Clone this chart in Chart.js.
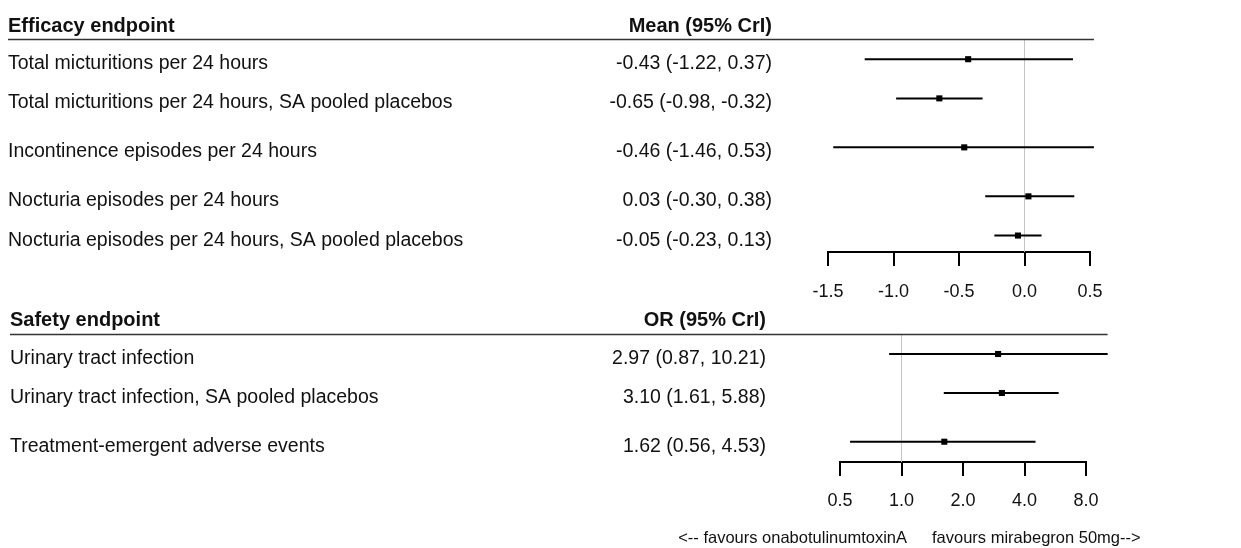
<!DOCTYPE html>
<html>
<head>
<meta charset="utf-8">
<script src="https://cdn.jsdelivr.net/npm/chart.js@4.4.1/dist/chart.umd.min.js"></script>
<style>
    html, body { margin: 0; padding: 0; background: #fff; }
    #wrap { position: relative; width: 1241px; height: 548px; }
    #wrap canvas { position: absolute; left: 0; }
</style>
</head>
<body>
<div id="wrap">
    <canvas id="efficacyChart" width="1241" height="300" style="top:0"></canvas>
    <canvas id="safetyChart" width="1241" height="248" style="top:300px"></canvas>
</div>
<script>
// ============================================================
// data
// ============================================================
const efficacyLabels = [
    'Total micturitions per 24 hours',
    'Total micturitions per 24 hours, SA pooled placebos',
    'Incontinence episodes per 24 hours',
    'Nocturia episodes per 24 hours',
    'Nocturia episodes per 24 hours, SA pooled placebos'
];
const efficacyMean = [-0.43, -0.65, -0.46, 0.03, -0.05];
const efficacyLow = [-1.22, -0.98, -1.46, -0.30, -0.23];
const efficacyHigh = [0.37, -0.32, 0.53, 0.38, 0.13];
const efficacyTicks = [-1.5, -1.0, -0.5, 0.0, 0.5];

const safetyLabels = [
    'Urinary tract infection',
    'Urinary tract infection, SA pooled placebos',
    'Treatment-emergent adverse events'
];
const safetyOR = [2.97, 3.10, 1.62];
const safetyLow = [0.87, 1.61, 0.56];
const safetyHigh = [10.21, 5.88, 4.53];
const safetyTicks = [0.5, 1, 2, 4, 8];

const footerLeft = '<-- favours onabotulinumtoxinA';
const footerRight = 'favours mirabegron 50mg-->';

// ============================================================
// layout (row slots on the y scale, groups are spaced a bit wider)
// ============================================================
const efficacyRows = [1, 2, 3.25, 4.5, 5.5];
const safetyRows = [1, 2, 3.25];
const FONT = '"Liberation Sans", Arial, Helvetica, sans-serif';

const fmt = v => v.toFixed(2);

// table text, header rule and footer drawn round the plot
const forestText = {
    id: 'forestText',
    afterDraw(chart, args, o) {
        const ctx = chart.ctx;
        const xs = chart.scales.x;
        const ys = chart.scales.y;
        const headY = ys.getPixelForValue(0.5);

        ctx.save();
        // header rule runs out to the widest interval
        const lineEnd = Math.max(xs.right, ...o.high.map(v => xs.getPixelForValue(v)));
        ctx.strokeStyle = '#333';
        ctx.lineWidth = 1.5;
        ctx.beginPath();
        ctx.moveTo(o.left, headY);
        ctx.lineTo(lineEnd, headY);
        ctx.stroke();

        ctx.fillStyle = '#111';
        ctx.textBaseline = 'alphabetic';
        ctx.font = 'bold 20px ' + FONT;
        ctx.textAlign = 'left';
        ctx.fillText(o.title, o.left, headY - 8);
        ctx.textAlign = 'right';
        ctx.fillText(o.valueTitle, o.valueRight, headY - 8);

        ctx.font = '19.5px ' + FONT;
        o.labels.forEach((lab, i) => {
            const py = ys.getPixelForValue(o.rows[i]) + 10;
            ctx.textAlign = 'left';
            ctx.fillText(lab, o.left, py);
            ctx.textAlign = 'right';
            ctx.fillText(`${fmt(o.est[i])} (${fmt(o.low[i])}, ${fmt(o.high[i])})`, o.valueRight, py);
        });

        if (o.footer) {
            ctx.font = '16.5px ' + FONT;
            ctx.textAlign = 'right';
            ctx.fillText(o.footer[0], 907, 243);
            ctx.textAlign = 'left';
            ctx.fillText(o.footer[1], 932, 243);
        }
        ctx.restore();
    }
};

function buildDatasets(est, low, high, rows, refValue, yMax) {
    const sets = [];
    sets.push({
        data: est.map((v, i) => ({ x: v, y: rows[i] })),
        pointStyle: 'rect',
        pointRadius: 4.3,
        pointBackgroundColor: '#000',
        pointBorderWidth: 0,
        clip: false
    });
    low.forEach((lo, i) => {
        sets.push({
            data: [{ x: lo, y: rows[i] }, { x: high[i], y: rows[i] }],
            showLine: true,
            borderColor: '#000',
            borderWidth: 2,
            pointRadius: 0,
            clip: false
        });
    });
    // line of no effect, drawn last = underneath
    sets.push({
        data: [{ x: refValue, y: 0.5 }, { x: refValue, y: yMax }],
        showLine: true,
        borderColor: '#c4c4c4',
        borderWidth: 1,
        pointRadius: 0,
        clip: false
    });
    return sets;
}

function makeForest(id, cfg) {
    return new Chart(document.getElementById(id), {
        type: 'scatter',
        data: { datasets: buildDatasets(cfg.est, cfg.low, cfg.high, cfg.rows, cfg.ref, cfg.yMax) },
        options: {
            responsive: false,
            animation: false,
            events: [],
            layout: { padding: cfg.padding },
            plugins: {
                legend: { display: false },
                tooltip: { enabled: false },
                forestText: {
                    title: cfg.title,
                    valueTitle: cfg.valueTitle,
                    labels: cfg.labels,
                    rows: cfg.rows,
                    est: cfg.est,
                    low: cfg.low,
                    high: cfg.high,
                    left: cfg.left,
                    valueRight: cfg.valueRight,
                    footer: cfg.footer
                }
            },
            scales: {
                x: {
                    type: cfg.xType,
                    min: cfg.ticks[0],
                    max: cfg.ticks[cfg.ticks.length - 1],
                    afterBuildTicks: s => { s.ticks = cfg.ticks.map(v => ({ value: v })); },
                    afterFit: s => { s.height = cfg.axisHeight; },
                    border: { display: true, color: '#000', width: 2 },
                    grid: { drawOnChartArea: false, drawTicks: true, tickLength: 14, color: '#000', lineWidth: 2 },
                    ticks: {
                        callback: v => Number(v).toFixed(1),
                        autoSkip: false,
                        maxRotation: 0,
                        padding: cfg.tickPad,
                        color: '#111',
                        font: { family: FONT, size: 18 }
                    }
                },
                y: {
                    type: 'linear',
                    reverse: true,
                    min: 0,
                    max: cfg.yMax,
                    display: false
                }
            }
        },
        plugins: [forestText]
    });
}

makeForest('efficacyChart', {
    xType: 'linear',
    ticks: efficacyTicks,
    est: efficacyMean, low: efficacyLow, high: efficacyHigh,
    rows: efficacyRows, labels: efficacyLabels,
    ref: 0, yMax: 5.92,
    padding: { left: 828, right: 151, top: 20, bottom: 0 },
    axisHeight: 48, tickPad: 15,
    title: 'Efficacy endpoint', valueTitle: 'Mean (95% CrI)',
    left: 8, valueRight: 772
});

makeForest('safetyChart', {
    xType: 'logarithmic',
    ticks: safetyTicks,
    est: safetyOR, low: safetyLow, high: safetyHigh,
    rows: safetyRows, labels: safetyLabels,
    ref: 1, yMax: 3.77,
    padding: { left: 840, right: 155, top: 15, bottom: 0 },
    axisHeight: 86, tickPad: 14,
    title: 'Safety endpoint', valueTitle: 'OR (95% CrI)',
    left: 10, valueRight: 766,
    footer: [footerLeft, footerRight]
});
</script>
</body>
</html>
